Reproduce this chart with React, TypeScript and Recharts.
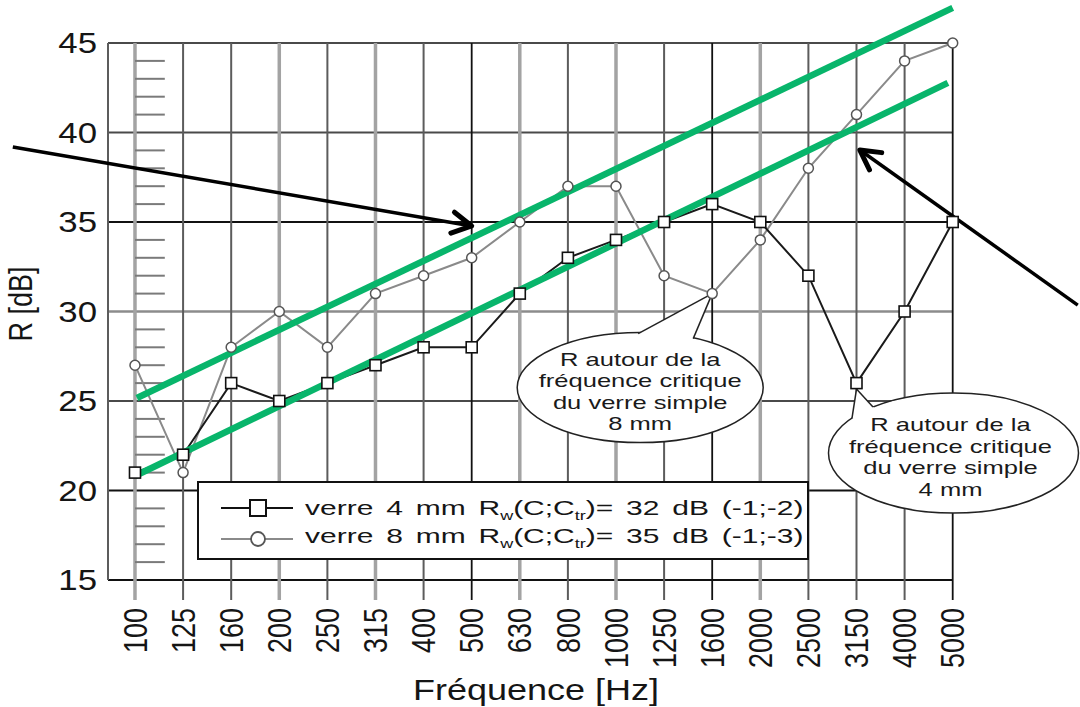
import React from 'react';
import {
  LineChart,
  Line,
  XAxis,
  YAxis,
  CartesianGrid,
  ReferenceLine,
  ReferenceDot,
  Legend,
} from 'recharts';

const FONT = '"Liberation Sans", Arial, sans-serif';

// third-octave bands (Hz)
const freqs = ['100', '125', '160', '200', '250', '315', '400', '500', '630', '800', '1000', '1250', '1600', '2000', '2500', '3150', '4000', '5000'];
// sound reduction index R (dB)
const verre4 = [21, 22, 26, 25, 26, 27, 28, 28, 31, 33, 34, 35, 36, 35, 32, 26, 30, 35];
const verre8 = [27, 21, 28, 30, 28, 31, 32, 33, 35, 37, 37, 32, 31, 34, 38, 41, 44, 45];

const yTicks = [15, 20, 25, 30, 35, 40, 45];
const minorTicks = [16, 17, 18, 19, 21, 22, 23, 24, 26, 27, 28, 29, 31, 32, 33, 34, 36, 37, 38, 39, 41, 42, 43, 44];
const xTicks = freqs.map((_, i) => i);

// green trend lines and the two arrows, as [band index, dB]
const upperTrend = [{ x: 0.04, y: 25.17 }, { x: 17, y: 46.96 }];
const lowerTrend = [{ x: 0, y: 20.81 }, { x: 16.9, y: 42.77 }];
const arrowLeft = [{ x: -2.54, y: 39.19 }, { x: 7.0, y: 34.78 }];
const arrowRight = [{ x: 19.6, y: 30.36 }, { x: 15.07, y: 39.02 }];

const callout8 = ['R autour de la', 'fréquence critique', 'du verre simple', '8 mm'];
const callout4 = ['R autour de la', 'fréquence critique', 'du verre simple', '4 mm'];

const data = freqs.map((f, i) => ({ i, f, verre4: verre4[i], verre8: verre8[i] }));

const X_MIN = -0.561;
const X_MAX = 17;

const darkV = [7, 12, 17];
const lightV = [0, 3, 5, 8, 10, 13];
function vStyle(i: number) {
  if (darkV.includes(i)) return { stroke: '#111', width: 1.8 };
  if (lightV.includes(i)) return { stroke: '#a3a3a3', width: 3.5 };
  return { stroke: '#5c5c5c', width: 2 };
}
function hStyle(v: number) {
  if (v === 35 || v === 20 || v === 15) return { stroke: '#111', width: 1.8 };
  if (v === 30) return { stroke: '#8c8c8c', width: 2.5 };
  return { stroke: '#4a4a4a', width: 2 };
}

function GridH(p: any) {
  const v = Math.round(15 + ((p.y + p.height - p.y1) / p.height) * 30);
  const s = hStyle(v);
  return <line key={p.key} x1={p.x1} x2={p.x2} y1={p.y1} y2={p.y2} stroke={s.stroke} strokeWidth={s.width} />;
}
function GridV(p: any) {
  const i = Math.round(X_MIN + ((p.x1 - p.x) / p.width) * (X_MAX - X_MIN));
  const s = vStyle(i);
  return <line key={p.key} x1={p.x1} x2={p.x2} y1={p.y1} y2={p.y2} stroke={s.stroke} strokeWidth={s.width} />;
}

function FreqTick({ x, y, payload }: any) {
  const i = payload.value as number;
  const s = vStyle(i);
  return (
    <g>
      <line x1={x} x2={x} y1={y - 28} y2={y - 8} stroke={s.stroke} strokeWidth={s.width} />
      <text
        transform={`translate(${x},${y}) scale(1.2,1) rotate(-90)`}
        textAnchor="end"
        dy="0.36em"
        fontSize={27}
        fontFamily={FONT}
        fill="#151515"
      >
        {freqs[i]}
      </text>
    </g>
  );
}

function DbTick({ x, y, payload }: any) {
  return (
    <text
      transform={`translate(${x},${y}) scale(1.2,1)`}
      textAnchor="end"
      dy="0.36em"
      fontSize={29}
      fontFamily={FONT}
      fill="#151515"
    >
      {payload.value}
    </text>
  );
}

function XTitle() {
  return (
    <text transform="translate(536,700) scale(1.2,1)" textAnchor="middle" fontSize={30} fontFamily={FONT} fill="#151515">
      Fréquence [Hz]
    </text>
  );
}

function YTitle() {
  return (
    <text transform="translate(32,304) scale(1.2,1) rotate(-90)" textAnchor="middle" fontSize={27} fontFamily={FONT} fill="#151515">
      R [dB]
    </text>
  );
}

function SquareDot({ cx, cy }: any) {
  if (cx == null || cy == null) return null;
  return <rect x={cx - 5.5} y={cy - 5.5} width={11} height={11} fill="#fff" stroke="#111" strokeWidth={1.6} />;
}

function Arrow({ x1, y1, x2, y2 }: any) {
  const a = Math.atan2(y1 - y2, x1 - x2);
  const len = 22;
  const spread = 0.5;
  const p1 = [x2 + len * Math.cos(a + spread), y2 + len * Math.sin(a + spread)];
  const p2 = [x2 + len * Math.cos(a - spread), y2 + len * Math.sin(a - spread)];
  return (
    <g>
      <line x1={x1} y1={y1} x2={x2} y2={y2} stroke="#000" strokeWidth={3.5} />
      <polyline
        points={`${p1[0]},${p1[1]} ${x2},${y2} ${p2[0]},${p2[1]}`}
        fill="none"
        stroke="#000"
        strokeWidth={5}
        strokeLinecap="round"
        strokeLinejoin="round"
      />
    </g>
  );
}

type CalloutGeom = {
  tip: [number, number];
  center: [number, number];
  rx: number;
  ry: number;
  base: [[number, number], [number, number]];
  textDx: number;
};

function makeCallout(lines: string[], g: CalloutGeom) {
  return function CalloutShape({ cx, cy }: any) {
    const tx = cx + g.tip[0];
    const ty = cy + g.tip[1];
    const ex = cx + g.center[0];
    const ey = cy + g.center[1];
    const b = g.base.map(([dx, dy]) => [cx + dx, cy + dy]);
    const inward = b.map(([px, py]) => [px + (ex - px) * 0.06, py + (ey - py) * 0.06]);
    const rows = [-22, -0.5, 21, 42.5];
    return (
      <g>
        <ellipse cx={ex} cy={ey} rx={g.rx} ry={g.ry} fill="#fff" stroke="#222" strokeWidth={1.5} />
        <polygon
          points={[[tx, ty], b[0], inward[0], inward[1], b[1]].map((p) => p.join(',')).join(' ')}
          fill="#fff"
          stroke="none"
        />
        <line x1={tx} y1={ty} x2={b[0][0]} y2={b[0][1]} stroke="#222" strokeWidth={1.5} />
        <line x1={tx} y1={ty} x2={b[1][0]} y2={b[1][1]} stroke="#222" strokeWidth={1.5} />
        {lines.map((t, k) => (
          <text
            key={k}
            transform={`translate(${ex + g.textDx},${ey + rows[k]}) scale(1.42,1)`}
            textAnchor="middle"
            fontSize={18}
            fontFamily={FONT}
            fill="#1a1a1a"
          >
            {t}
          </text>
        ))}
      </g>
    );
  };
}

const Callout8 = makeCallout(callout8, {
  tip: [0, 0],
  center: [-72, 94],
  rx: 123,
  ry: 55,
  base: [[-74, 40], [-19, 45]],
  textDx: 0,
});
const Callout4 = makeCallout(callout4, {
  tip: [0, 6],
  center: [97, 70],
  rx: 125,
  ry: 60,
  base: [[-4.5, 35], [16.5, 24]],
  textDx: -3,
});

const legendRows = [
  { key: 'verre4', label: 'verre 4 mm', value: '32 dB (-1;-2)', color: '#111', marker: 'square' },
  { key: 'verre8', label: 'verre 8 mm', value: '35 dB (-1;-3)', color: '#8a8a8a', marker: 'circle' },
];

function LegendBox() {
  return (
    <svg width={612} height={79} style={{ display: 'block' }}>
      <rect x={1} y={1} width={610} height={77} fill="#fff" stroke="#111" strokeWidth={2} />
      {legendRows.map((r, k) => {
        const ly = k === 0 ? 27 : 58;
        const by = k === 0 ? 34 : 62;
        return (
          <g key={r.key}>
            <line x1={24} x2={96} y1={ly} y2={ly} stroke={r.color} strokeWidth={2.2} />
            {r.marker === 'square' ? (
              <rect x={53} y={ly - 8} width={16} height={16} fill="#fff" stroke="#111" strokeWidth={2} />
            ) : (
              <circle cx={61} cy={ly} r={7} fill="#fff" stroke="#555" strokeWidth={1.8} />
            )}
            <text
              transform={`translate(108,${by}) scale(1.5,1)`}
              fontSize={20}
              fontFamily={FONT}
              fill="#151515"
              wordSpacing={3}
            >
              {r.label} R
              <tspan fontSize={12} dy={5}>w</tspan>
              <tspan dy={-5}>(C;C</tspan>
              <tspan fontSize={12} dy={5}>tr</tspan>
              <tspan dy={-5}>)= {r.value}</tspan>
            </text>
          </g>
        );
      })}
    </svg>
  );
}

export default function App() {
  return (
    <div style={{ position: 'absolute', left: 0, top: 0, width: 1080, height: 707, background: '#fff' }}>
      <LineChart width={1080} height={707} data={data} margin={{ top: 43, right: 127.3, bottom: 27, left: 48 }}>
        <CartesianGrid horizontal={GridH} vertical={GridV} />
        <XAxis
          type="number"
          dataKey="i"
          domain={[X_MIN, X_MAX]}
          ticks={xTicks}
          interval={0}
          height={100}
          tickSize={20}
          tickMargin={8}
          axisLine={false}
          tickLine={false}
          tick={<FreqTick />}
          label={<XTitle />}
        />
        <YAxis
          domain={[15, 45]}
          ticks={yTicks}
          width={60}
          tickSize={0}
          tickMargin={11}
          axisLine={false}
          tickLine={false}
          tick={<DbTick />}
          label={<YTitle />}
        />
        {minorTicks.map((v) => (
          <ReferenceLine
            key={v}
            segment={[{ x: 0, y: v }, { x: 0.62, y: v }]}
            stroke="#7a7a7a"
            strokeWidth={2}
          />
        ))}
        <Line
          dataKey="verre8"
          stroke="#8a8a8a"
          strokeWidth={2}
          dot={{ r: 5, fill: '#fff', stroke: '#555', strokeWidth: 1.5 }}
          activeDot={false}
          isAnimationActive={false}
        />
        <Line
          dataKey="verre4"
          stroke="#1a1a1a"
          strokeWidth={2}
          dot={<SquareDot />}
          activeDot={false}
          isAnimationActive={false}
        />
        <ReferenceLine segment={upperTrend} stroke="#08b56b" strokeWidth={6.5} ifOverflow="visible" />
        <ReferenceLine segment={lowerTrend} stroke="#08b56b" strokeWidth={6.5} ifOverflow="visible" />
        <ReferenceLine segment={arrowLeft} ifOverflow="visible" shape={(p: any) => <Arrow {...p} />} />
        <ReferenceLine segment={arrowRight} ifOverflow="visible" shape={(p: any) => <Arrow {...p} />} />
        <ReferenceDot x={12} y={31} r={1} ifOverflow="visible" shape={(p: any) => <Callout8 {...p} />} />
        <ReferenceDot x={15} y={26} r={1} ifOverflow="visible" shape={(p: any) => <Callout4 {...p} />} />
        <Legend
          layout="horizontal"
          verticalAlign="middle"
          align="center"
          content={() => <LegendBox />}
          wrapperStyle={{ position: 'absolute', left: 197, top: 481, width: 612, height: 79 }}
        />
      </LineChart>
    </div>
  );
}
